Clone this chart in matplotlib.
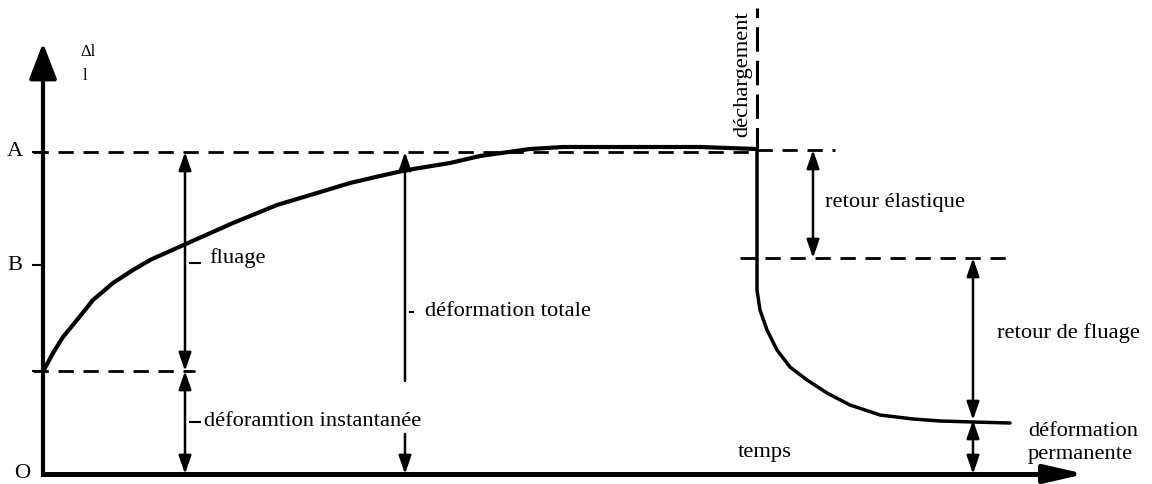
import matplotlib
matplotlib.use("Agg")
import matplotlib.pyplot as plt
from matplotlib.patches import FancyArrowPatch, ArrowStyle

# ---- data (diagram units: time -> x, strain -> y) ----
level_A = 322
level_B = 209
level_inst = 103
level_elastic = 216
level_perm = 54
t_unload = 714

load_t = [0, 2, 10, 20, 34, 50, 70, 90, 107, 145, 190, 234, 274, 307, 337, 364, 407, 437, 487, 520, 587, 657, 714]
load_y = [103, 106, 121, 137, 154, 174, 191, 204, 214, 231, 251, 269, 281, 291, 298, 304, 311, 318, 325, 327, 327, 327, 325]

unload_t = [714, 714, 714, 717, 724, 734, 747, 764, 784, 807, 837, 870, 897, 930, 967]
unload_y = [324, 216, 184, 164, 144, 124, 107, 94, 81, 69, 59, 55, 53, 52, 51]

axis_labels = ["A", "B", "O"]

plt.rcParams['font.family'] = ['Liberation Serif', 'DejaVu Serif']

fig = plt.figure(figsize=(11.52, 4.84), dpi=100)
ax = fig.add_axes([0, 0, 1, 1])
ax.set_xlim(-43, 1109)
ax.set_ylim(-10, 474)
ax.axis('off')

fs = 16.2
dash_kw = dict(color='black', lw=2.0, dashes=(5.5, 3.5))

# axes with arrows
ax.plot([0, 0], [0, 405], color='black', lw=3)
ax.plot([0, 1015], [0, 0], color='black', lw=3.6)
ax.add_patch(FancyArrowPatch((0, 395), (0, 431), arrowstyle=ArrowStyle('-|>', head_length=2.2, head_width=0.85),
                             mutation_scale=10, color='black', lw=3, shrinkA=0, shrinkB=0))
ax.add_patch(FancyArrowPatch((1000, 0), (1042, 0), arrowstyle=ArrowStyle('-|>', head_length=2.4, head_width=0.55),
                             mutation_scale=10, color='black', lw=3.6, shrinkA=0, shrinkB=0))

# ticks
for lv in [level_A, level_B, level_inst]:
    ax.plot([-10, 0], [lv, lv], color='black', lw=1.5)

# dashed reference lines
ax.plot([-10, t_unload], [level_A, level_A], **dash_kw)
ax.plot([t_unload, 792], [level_A + 2, level_A + 2], **dash_kw)
ax.plot([-10, 152], [level_inst, level_inst], **dash_kw)
ax.plot([697, 972], [level_elastic, level_elastic], **dash_kw)
ax.plot([t_unload, t_unload], [level_A, 466], color='black', lw=2.2, dashes=(8, 3))

# curve
ax.plot(load_t, load_y, color='black', lw=3, solid_capstyle='round', solid_joinstyle='round')
ax.plot(unload_t, unload_y, color='black', lw=2.5, solid_capstyle='round', solid_joinstyle='round')


def arrow(x, y0, y1, style):
    ax.add_patch(FancyArrowPatch((x, y0), (x, y1), arrowstyle=ArrowStyle(style, head_length=1.1, head_width=0.38),
                                 mutation_scale=10, color='black', lw=1.8, shrinkA=0, shrinkB=0))


arrow(142, level_inst, level_A, '<|-|>')
arrow(142, 0, level_inst, '<|-|>')
arrow(362, 93, level_A, '-|>')
arrow(362, 40, 0, '-|>')
arrow(770, level_elastic, level_A + 2, '<|-|>')
arrow(930, level_perm, level_elastic, '<|-|>')
arrow(930, 0, level_perm, '<|-|>')

# small leader ticks
ax.plot([147, 157], [211, 211], color='black', lw=1.5)
ax.plot([147, 157], [52, 52], color='black', lw=1.5)
ax.plot([367, 370], [162, 162], color='black', lw=1.5)

# texts
ax.text(-28, level_A, axis_labels[0], fontsize=fs, ha='center', va='center')
ax.text(-28, level_B, axis_labels[1], fontsize=fs, ha='center', va='center')
ax.text(-21, 0, axis_labels[2], fontsize=fs, ha='center', va='center')
ax.text(45, 422, "Δl", fontsize=12, ha='center', va='center')
ax.text(42, 398, "l", fontsize=12, ha='center', va='center')

ax.text(166, 216, "fluage", fontsize=fs, ha='left', va='center')
ax.text(382, 162, "déformation totale", fontsize=fs, ha='left', va='center')
ax.text(161, 52, "déforamtion instantanée", fontsize=fs, ha='left', va='center')
ax.text(695, 22, "temps", fontsize=fs, ha='left', va='center')
ax.text(782, 272, "retour élastique", fontsize=fs, ha='left', va='center')
ax.text(954, 141, "retour de fluage", fontsize=fs, ha='left', va='center')
ax.text(985, 42, "déformation", fontsize=fs, ha='left', va='center')
ax.text(985, 19, "permanente", fontsize=fs, ha='left', va='center')
ax.text(700, 400, "déchargement", fontsize=fs, ha='center', va='center', rotation=90)

fig.savefig("out.png", dpi=100)
